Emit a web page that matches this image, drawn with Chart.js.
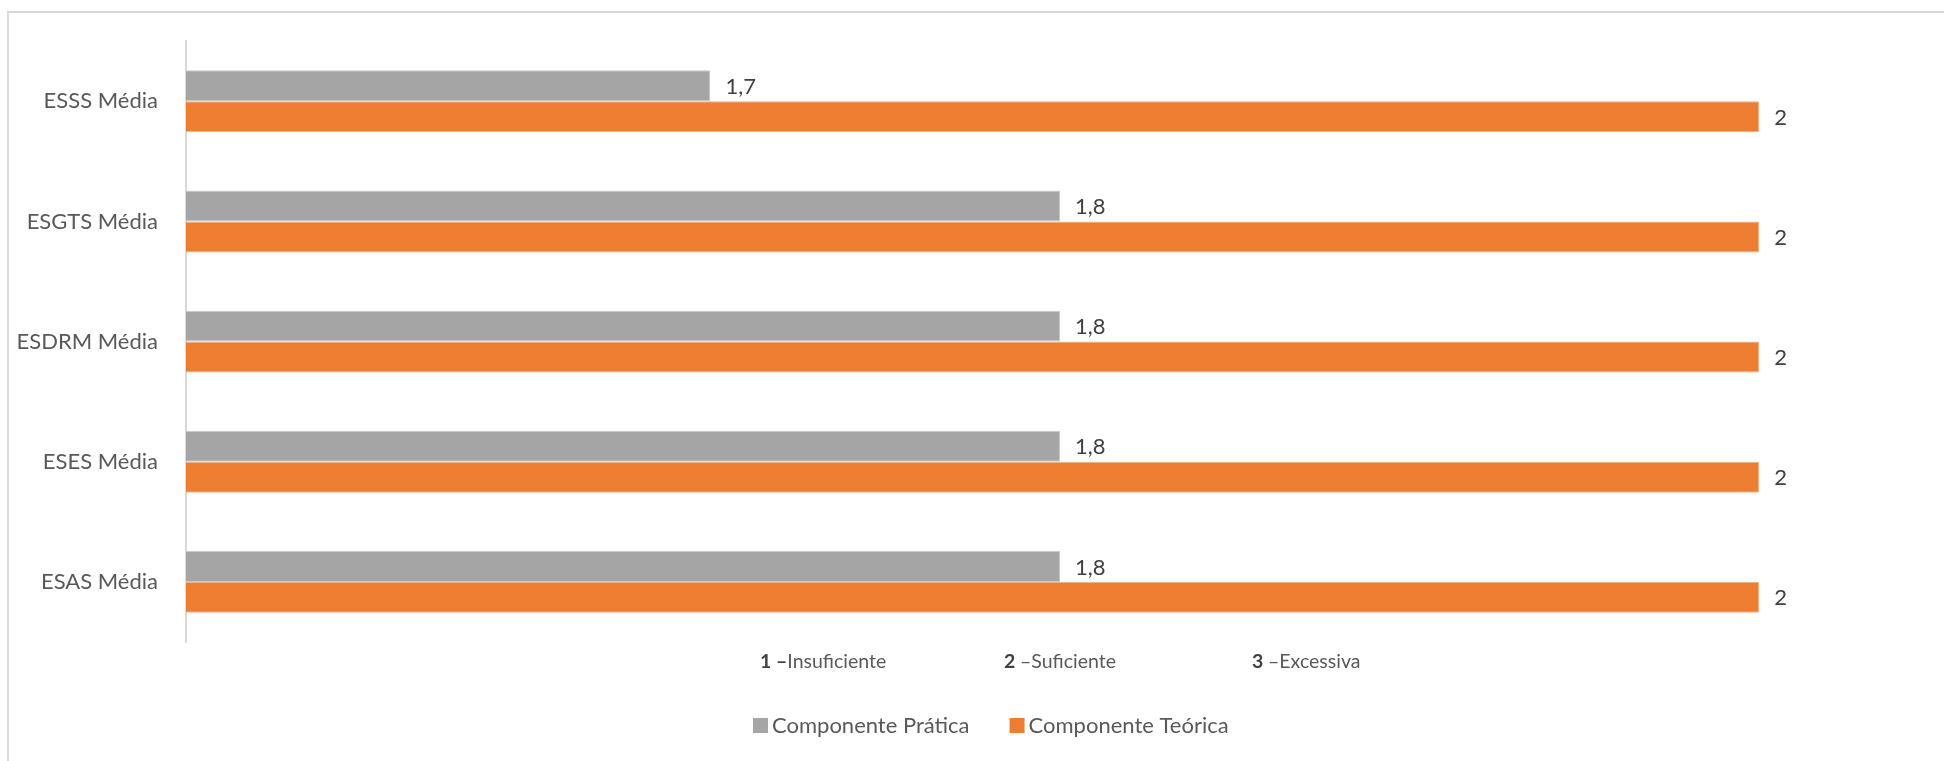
<!DOCTYPE html>
<html>
<head>
<meta charset="utf-8">
<script src="https://cdn.jsdelivr.net/npm/chart.js@4/dist/chart.umd.min.js"></script>
<style>
  html, body { margin: 0; padding: 0; background: #fff; }
  #wrap { width: 1944px; height: 761px; position: relative; }
</style>
</head>
<body>
<div id="wrap"><canvas id="mediaChart" width="1944" height="761"></canvas></div>
<script>
// Categories (top to bottom)
const escolas = ['ESSS Média', 'ESGTS Média', 'ESDRM Média', 'ESES Média', 'ESAS Média'];
// Series values
const pratica = [1.7, 1.8, 1.8, 1.8, 1.8];
const teorica = [2, 2, 2, 2, 2];
const serieNomes = ['Componente Prática', 'Componente Teórica'];
const serieCores = ['#A5A5A5', '#ED7D31'];
// Scale note shown under the plot
const escalaNum = ['1 –', '2 ', '3 '];
const escalaTxt = ['Insuficiente', '–Suficiente', '–Excessiva'];

const FONT = 'Lato, "Open Sans", sans-serif';

// frame, value labels, scale note and legend
const extras = {
  id: 'extras',
  beforeDraw(chart) {
    const ctx = chart.ctx;
    ctx.save();
    ctx.strokeStyle = '#d9d9d9';
    ctx.lineWidth = 2;
    ctx.beginPath();
    ctx.moveTo(8, 761);
    ctx.lineTo(8, 12);
    ctx.lineTo(1944, 12);
    ctx.stroke();
    ctx.restore();
  },
  afterDatasetsDraw(chart) {
    const ctx = chart.ctx;
    ctx.save();
    ctx.font = '22px ' + FONT;
    ctx.fillStyle = '#404040';
    ctx.textAlign = 'left';
    ctx.textBaseline = 'middle';
    chart.data.datasets.forEach((ds, i) => {
      chart.getDatasetMeta(i).data.forEach((bar, j) => {
        const v = Math.round(ds.data[j] * 10) / 10;
        ctx.fillText(String(v).replace('.', ','), bar.x + 15, bar.y + 1);
      });
    });
    ctx.restore();
  },
  afterDraw(chart) {
    const ctx = chart.ctx;
    ctx.save();
    ctx.textBaseline = 'middle';
    ctx.textAlign = 'left';
    // scale note
    const notaX = [760, 1004, 1252];
    escalaNum.forEach((n, i) => {
      ctx.font = 'bold 19.5px ' + FONT;
      ctx.fillStyle = '#404040';
      ctx.fillText(n, notaX[i], 662);
      const w = ctx.measureText(n).width;
      ctx.font = '19.5px ' + FONT;
      ctx.fillStyle = '#595959';
      ctx.fillText(escalaTxt[i], notaX[i] + w, 662);
    });
    // legend
    let x = 753;
    ctx.font = '22px ' + FONT;
    chart.data.datasets.forEach((ds) => {
      ctx.fillStyle = ds.backgroundColor;
      ctx.fillRect(x, 718, 15, 15);
      ctx.fillStyle = '#595959';
      ctx.fillText(ds.label, x + 19, 726);
      x += 19 + ctx.measureText(ds.label).width + 40;
    });
    ctx.restore();
  }
};

const ctx = document.getElementById('mediaChart').getContext('2d');
const mediaChart = new Chart(ctx, {
  type: 'bar',
  data: {
    labels: escolas,
    datasets: [{
      label: serieNomes[0],
      data: pratica,
      backgroundColor: serieCores[0],
      borderColor: '#c9c9c9',
      borderWidth: 1
    }, {
      label: serieNomes[1],
      data: teorica,
      backgroundColor: serieCores[1],
      borderColor: '#f4b183',
      borderWidth: 1
    }]
  },
  options: {
    indexAxis: 'y',
    responsive: false,
    animation: false,
    devicePixelRatio: 1,
    categoryPercentage: 0.515,
    barPercentage: 1,
    layout: {
      padding: { left: 0, top: 40, right: 10, bottom: 119 }
    },
    plugins: {
      legend: { display: false },
      tooltip: { enabled: false }
    },
    scales: {
      x: {
        display: false,
        min: 1.55,
        max: 2.05
      },
      y: {
        afterFit(scale) { scale.width = 186; },
        grid: { display: false, drawTicks: false },
        border: { display: true, color: '#d9d9d9', width: 2 },
        ticks: {
          padding: 28,
          color: '#595959',
          font: { family: FONT, size: 22 }
        }
      }
    }
  },
  plugins: [extras]
});
</script>
</body>
</html>
